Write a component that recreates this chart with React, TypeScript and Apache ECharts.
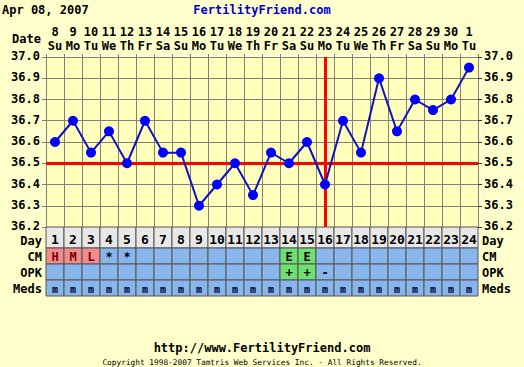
import React, { useEffect, useRef } from "react";
import * as echarts from "echarts";

const cycleDays = [1, 2, 3, 4, 5, 6, 7, 8, 9, 10, 11, 12, 13, 14, 15, 16, 17, 18, 19, 20, 21, 22, 23, 24];
const dates = ["8", "9", "10", "11", "12", "13", "14", "15", "16", "17", "18", "19", "20", "21", "22", "23", "24", "25", "26", "27", "28", "29", "30", "1"];
const weekdays = ["Su", "Mo", "Tu", "We", "Th", "Fr", "Sa", "Su", "Mo", "Tu", "We", "Th", "Fr", "Sa", "Su", "Mo", "Tu", "We", "Th", "Fr", "Sa", "Su", "Mo", "Tu"];
const temps = [36.6, 36.7, 36.55, 36.65, 36.5, 36.7, 36.55, 36.55, 36.3, 36.4, 36.5, 36.35, 36.55, 36.5, 36.6, 36.4, 36.7, 36.55, 36.9, 36.65, 36.8, 36.75, 36.8, 36.95];
const coverline = 36.5;
const ovulationDay = 16;
const tempMin = 36.2;
const tempMax = 37.0;
const tempStep = 0.1;
const rowNames = ["Day", "CM", "OPK", "Meds"];
const cmValues = ["H", "M", "L", "*", "*", "", "", "", "", "", "", "", "", "E", "E", "", "", "", "", "", "", "", "", ""];
const opkValues = ["", "", "", "", "", "", "", "", "", "", "", "", "", "+", "+", "-", "", "", "", "", "", "", "", ""];
const medsValues = ["m", "m", "m", "m", "m", "m", "m", "m", "m", "m", "m", "m", "m", "m", "m", "m", "m", "m", "m", "m", "m", "m", "m", "m"];
const titleDate = "Apr 08, 2007";
const siteName = "FertilityFriend.com";
const siteUrl = "http://www.FertilityFriend.com";
const copyright = "Copyright 1998-2007 Tamtris Web Services Inc. - All Rights Reserved.";

const FONT = "'DejaVu Sans Mono', monospace";
const PAGE_BG = "#ffffcc";
const PLOT_BG = "#ffffbb";
const GRID_COLOR = "#808080";
const BLUE_CELL = "#88b6ec";
const PINK_CELL = "#f08c8c";
const GREEN_CELL = "#6ee06e";
const DAY_CELL = "#e8e8e8";
const ROW_TOP = [0, 21, 37, 53];
const ROW_H = [21, 16, 16, 16];

function cellFill(row: number, text: string) {
  if (row === 0) return DAY_CELL;
  if (row === 1 && (text === "H" || text === "M" || text === "L")) return PINK_CELL;
  if (text === "E" || text === "+") return GREEN_CELL;
  return BLUE_CELL;
}

function cellTextColor(row: number, text: string) {
  if (row === 1 && (text === "H" || text === "M" || text === "L")) return "#7a0000";
  if (row === 3) return "#000033";
  return "#000";
}

export default function App() {
  const ref = useRef<HTMLDivElement>(null);
  useEffect(() => {
    if (!ref.current) return;
    const chart = echarts.init(ref.current, null, { renderer: "svg" });

    const tableTexts: string[] = [];
    const tableData: number[][] = [];
    const rows = [cycleDays.map((d) => String(d)), cmValues, opkValues, medsValues];
    rows.forEach((r, ri) => {
      r.forEach((t, ci) => {
        tableData.push([ci, ri]);
        tableTexts.push(t);
      });
    });

    const yLabel = {
      fontFamily: FONT,
      fontWeight: "bold" as const,
      fontSize: 12,
      color: "#000",
      formatter: (v: number) => v.toFixed(1),
    };

    chart.setOption({
      animation: false,
      backgroundColor: PAGE_BG,
      grid: [
        { left: 46, right: 46, top: 57, height: 170, show: true, backgroundColor: PLOT_BG, borderWidth: 0 },
        { left: 46, right: 46, top: 227, height: 69, show: false },
      ],
      xAxis: [
        {
          type: "category",
          gridIndex: 0,
          position: "top",
          data: cycleDays.map((d) => String(d)),
          boundaryGap: true,
          axisLine: { show: true, lineStyle: { color: GRID_COLOR } },
          axisTick: { show: true, inside: false, length: 3, lineStyle: { color: GRID_COLOR } },
          splitLine: { show: true, lineStyle: { color: GRID_COLOR, width: 1 } },
          axisLabel: {
            margin: 4,
            interval: 0,
            fontFamily: FONT,
            fontWeight: "bold",
            fontSize: 12,
            lineHeight: 14,
            color: "#000",
            formatter: (_v: string, i: number) => `${dates[i]}\n${weekdays[i]}`,
          },
        },
        {
          type: "category",
          gridIndex: 1,
          data: cycleDays.map((d) => String(d)),
          boundaryGap: true,
          show: false,
        },
      ],
      yAxis: [
        {
          type: "value",
          gridIndex: 0,
          position: "left",
          min: tempMin,
          max: tempMax,
          interval: tempStep,
          axisLine: { show: true, lineStyle: { color: GRID_COLOR } },
          axisTick: { show: true, length: 4, lineStyle: { color: GRID_COLOR } },
          splitLine: { show: true, lineStyle: { color: GRID_COLOR, width: 1 } },
          axisLabel: { ...yLabel, margin: 6, verticalAlign: "bottom", lineHeight: 12, padding: [0, 0, -5, 0] },
        },
        {
          type: "value",
          gridIndex: 0,
          position: "right",
          min: tempMin,
          max: tempMax,
          interval: tempStep,
          axisLine: { show: true, lineStyle: { color: GRID_COLOR } },
          axisTick: { show: true, length: 4, lineStyle: { color: "#333" } },
          splitLine: { show: false },
          axisLabel: { ...yLabel, margin: 6, verticalAlign: "bottom", lineHeight: 12, padding: [0, 0, -5, 0] },
        },
        { type: "value", gridIndex: 1, min: 0, max: 1, show: false },
      ],
      series: [
        {
          type: "line",
          xAxisIndex: 0,
          yAxisIndex: 0,
          data: temps,
          symbol: "circle",
          symbolSize: 10,
          itemStyle: { color: "#0000ff" },
          lineStyle: { color: "#1010c0", width: 2 },
          z: 5,
          markLine: {
            silent: true,
            symbol: "none",
            label: { show: false },
            lineStyle: { color: "#ff0000", width: 3, type: "solid" },
            data: [{ yAxis: coverline }, { xAxis: ovulationDay - 1 }],
            z: 3,
          },
        },
        {
          type: "custom",
          xAxisIndex: 1,
          yAxisIndex: 2,
          data: tableData,
          renderItem: (params: any, api: any) => {
            const col = api.value(0);
            const row = api.value(1);
            const cs = params.coordSys;
            const cx = api.coord([col, 0])[0];
            const w = api.size([1, 0])[0];
            const x = cx - w / 2;
            const y = cs.y + ROW_TOP[row];
            const h = ROW_H[row];
            const text = tableTexts[params.dataIndex];
            return {
              type: "group",
              children: [
                {
                  type: "rect",
                  shape: { x, y, width: w, height: h },
                  style: { fill: cellFill(row, text), stroke: "#555", lineWidth: 1 },
                },
                {
                  type: "text",
                  style: {
                    text,
                    x: cx,
                    y: y + h / 2 + (row === 0 ? 2 : 1),
                    align: "center",
                    verticalAlign: "middle",
                    fontFamily: FONT,
                    fontWeight: "bold",
                    fontSize: row === 0 ? 13 : row === 3 ? 10 : 12,
                    fill: cellTextColor(row, text),
                  },
                },
              ],
            };
          },
        },
        {
          type: "custom",
          xAxisIndex: 1,
          yAxisIndex: 2,
          data: rowNames.map((_n, i) => [0, i]),
          renderItem: (params: any, api: any) => {
            const row = api.value(1);
            const cs = params.coordSys;
            const y = cs.y + ROW_TOP[row] + ROW_H[row] / 2 + (row === 0 ? 3 : 1);
            const st = {
              fontFamily: FONT,
              fontWeight: "bold",
              fontSize: 12,
              fill: "#000",
              verticalAlign: "middle",
            };
            return {
              type: "group",
              children: [
                { type: "text", style: { ...st, text: rowNames[row], x: cs.x - 4, y, align: "right" } },
                { type: "text", style: { ...st, text: rowNames[row], x: cs.x + cs.width + 4, y, align: "left" } },
              ],
            };
          },
        },
      ],
      graphic: [
        {
          type: "text",
          left: 2,
          top: 4,
          style: { text: titleDate, fontFamily: FONT, fontWeight: "bold", fontSize: 12, fill: "#000" },
        },
        {
          type: "text",
          x: 262,
          y: 10,
          style: {
            text: siteName,
            fontFamily: FONT,
            fontWeight: "bold",
            fontSize: 12,
            fill: "#0000cc",
            align: "center",
            verticalAlign: "middle",
          },
        },
        {
          type: "text",
          x: 41,
          y: 39,
          style: {
            text: "Date",
            fontFamily: FONT,
            fontWeight: "bold",
            fontSize: 12,
            fill: "#000",
            align: "right",
            verticalAlign: "middle",
          },
        },
        {
          type: "text",
          x: 262,
          y: 348,
          style: {
            text: siteUrl,
            fontFamily: FONT,
            fontWeight: "bold",
            fontSize: 12,
            fill: "#000",
            align: "center",
            verticalAlign: "middle",
          },
        },
        {
          type: "text",
          x: 262,
          y: 362,
          style: {
            text: copyright,
            fontFamily: FONT,
            fontSize: 7.8,
            fill: "#000",
            align: "center",
            verticalAlign: "middle",
          },
        },
      ],
    });
    return () => chart.dispose();
  }, []);
  return (
    <div
      ref={ref}
      style={{ position: "fixed", left: 0, top: 0, width: 524, height: 367 }}
    />
  );
}
